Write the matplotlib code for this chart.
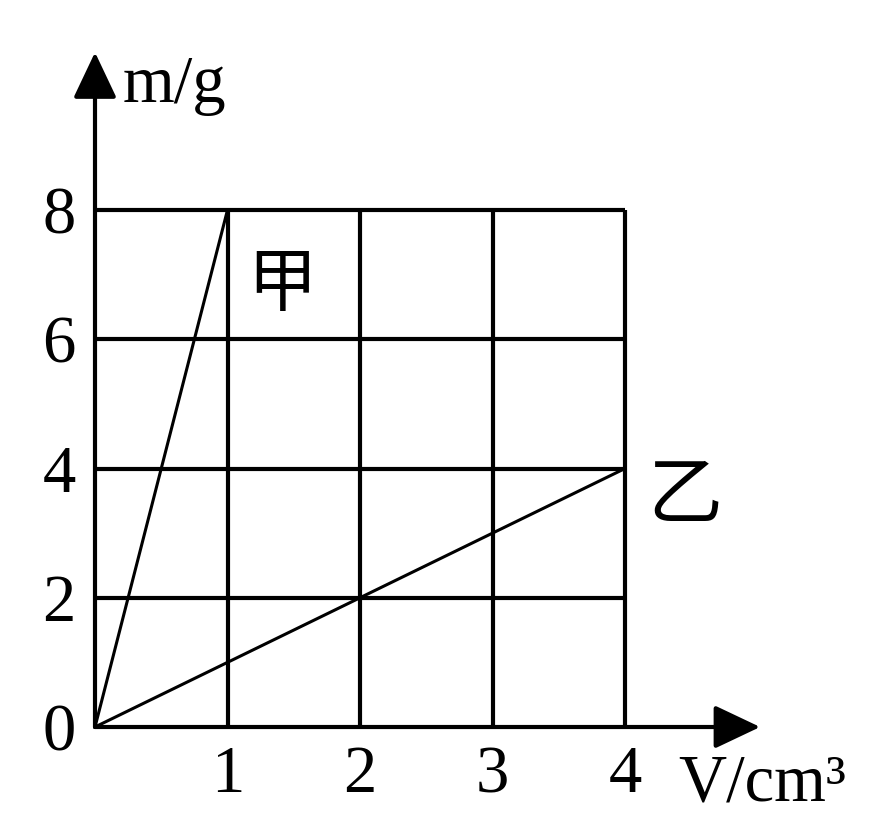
import matplotlib.pyplot as plt

# 质量-体积图像数据
volume_jia = [0, 1]
mass_jia = [0, 8]
volume_yi = [0, 4]
mass_yi = [0, 4]

x_ticks = [1, 2, 3, 4]
y_ticks = [0, 2, 4, 6, 8]
grid_x = [1, 2, 3, 4]
grid_y = [2, 4, 6, 8]

serif = ['Liberation Serif', 'DejaVu Serif']
cjk = ['Noto Sans CJK SC', 'DejaVu Sans']
fs = 48

fig = plt.figure(figsize=(8.83, 8.17), dpi=100)
ax = fig.add_axes([95 / 883, 90 / 817, 530 / 883, 517 / 817])
ax.set_xlim(0, 4)
ax.set_ylim(0, 8)
for s in ax.spines.values():
    s.set_visible(False)

# 方格
ax.vlines(grid_x, 0, 8, color='black', lw=3.0, clip_on=False)
ax.hlines(grid_y, 0, 4, color='black', lw=3.0, clip_on=False)

# 坐标轴和箭头
arrow = dict(arrowstyle='-|>,head_length=0.95,head_width=0.45', lw=3.0,
             color='black', mutation_scale=30, shrinkA=0, shrinkB=0)
ax.annotate('', xy=(5.02, 0), xytext=(0, 0), arrowprops=arrow,
            annotation_clip=False)
ax.annotate('', xy=(0, 10.44), xytext=(0, 0), arrowprops=arrow,
            annotation_clip=False)

# 甲、乙两条直线
ax.plot(volume_jia, mass_jia, color='black', lw=2.2, clip_on=False)
ax.plot(volume_yi, mass_yi, color='black', lw=2.2, clip_on=False)

ax.set_xticks(x_ticks)
ax.set_xticklabels([str(v) for v in x_ticks], family=serif, fontsize=fs)
ax.set_yticks(y_ticks)
ax.set_yticklabels([str(v) for v in y_ticks], family=serif, fontsize=fs)
ax.tick_params(axis='both', length=0)
ax.tick_params(axis='x', pad=13)
ax.tick_params(axis='y', pad=14)

ax.text(0.21, 9.67, 'm/g', family=serif, fontsize=fs, ha='left',
        va='baseline')
ax.text(4.40, -1.14, 'V/cm³', family=serif, fontsize=fs, ha='left',
        va='baseline')
ax.text(1.41, 6.84, '甲', family=cjk, fontsize=50, ha='center',
        va='center')
ax.text(4.45, 3.56, '乙', family=cjk, fontsize=54, ha='center',
        va='center')

plt.savefig('out.png', dpi=100)
